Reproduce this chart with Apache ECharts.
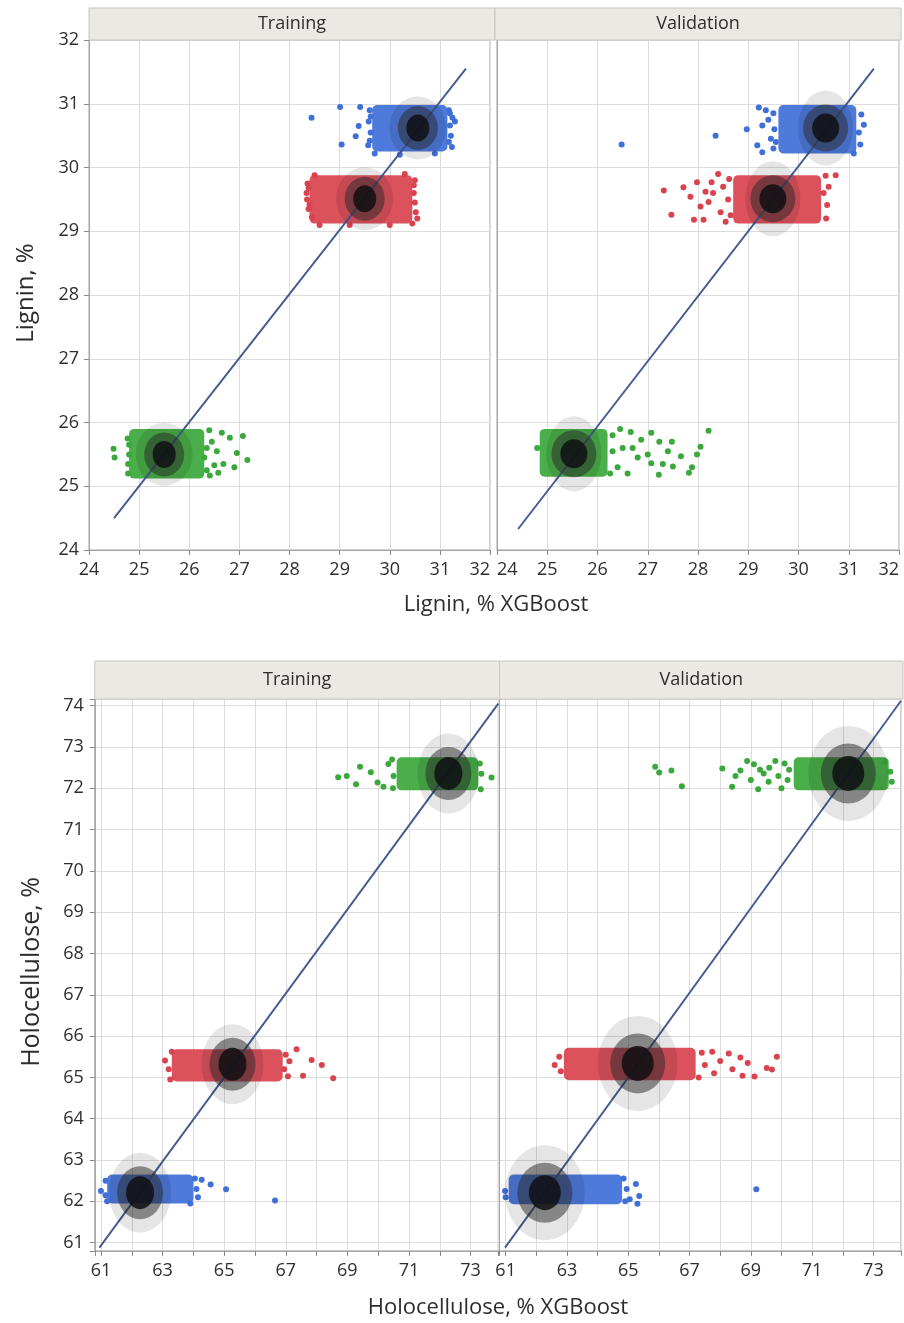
<!DOCTYPE html>
<html><head><meta charset="utf-8">
<script src="https://cdn.jsdelivr.net/npm/echarts@6/dist/echarts.min.js"></script>
<style>html,body{margin:0;padding:0;background:#fff;}#c{width:904px;height:1323px;}</style>
</head><body><div id="c"></div>
<script>
// ================= DATA =================
const panelNames = ['Training', 'Validation'];
const ligninTitleY = 'Lignin, %';
const ligninTitleX = 'Lignin, % XGBoost';
const holoTitleY = 'Holocellulose, %';
const holoTitleX = 'Holocellulose, % XGBoost';

const ligninTickLabels = [24, 25, 26, 27, 28, 29, 30, 31, 32];
const holoXTickLabels = [61, 63, 65, 67, 69, 71, 73];
const holoYTickLabels = [61, 62, 63, 64, 65, 66, 67, 68, 69, 70, 71, 72, 73, 74];
const ligninRange = [24, 32];
const holoXRange = [60.8, 73.9];
const holoYRange = [60.8, 74.15];

// cluster order in every panel: blue, red, green
// dense cores: [xMin, xMax, yMin, yMax]
// ---- Lignin / Training
const ligTrainDense = [[29.65, 31.15, 30.25, 30.98], [28.4, 30.45, 29.12, 29.88], [24.8, 26.3, 25.12, 25.9]];
const ligTrainBlue = [[28.44,30.78],[29.01,30.95],[29.41,30.95],[29.38,30.65],[29.32,30.49],[29.04,30.36],[29.57,30.35],[31.2,30.66],[31.24,30.32],[29.6,30.9],[29.62,30.55],[29.58,30.72],[31.25,30.78],[31.22,30.5],[31.18,30.9],[29.7,30.22],[30.2,30.2],[30.9,30.22],[31.3,30.72],[29.62,30.8],[29.6,30.42],[31.18,30.4],[31.2,30.85]];
const ligTrainRed = [[28.34,29.6],[28.36,29.75],[28.38,29.35],[28.35,29.5],[28.45,29.22],[30.5,29.8],[30.52,29.3],[30.48,29.6],[30.55,29.2],[30.45,29.12],[28.6,29.1],[29.2,29.1],[30.0,29.1],[28.5,29.88],[30.3,29.9],[28.38,29.68],[28.4,29.42],[30.5,29.45],[30.48,29.72]];
const ligTrainGreen = [[24.49,25.59],[24.51,25.45],[26.65,25.84],[26.81,25.76],[27.07,25.79],[27.16,25.41],[26.95,25.52],[26.9,25.3],[26.58,25.21],[26.68,25.35],[26.5,25.33],[26.41,25.17],[24.77,25.75],[24.78,25.2],[24.8,25.5],[26.35,25.6],[26.4,25.88],[26.3,25.45],[26.45,25.7],[26.55,25.55],[26.35,25.25],[24.78,25.35],[24.8,25.65]];
const ligTrainMeans = [[30.56,30.62],[29.5,29.51],[25.5,25.5]];
const ligTrainFit = [[24.5,24.5],[31.52,31.55]];

// ---- Lignin / Validation
const ligValDense = [[29.6, 31.15, 30.22, 30.98], [28.7, 30.45, 29.12, 29.88], [24.85, 26.2, 25.15, 25.9]];
const ligValBlue = [[26.48,30.36],[28.35,30.5],[28.97,30.6],[29.21,30.94],[29.28,30.66],[29.18,30.35],[29.28,30.24],[29.4,30.75],[29.45,30.45],[29.35,30.9],[29.5,30.3],[31.25,30.83],[31.3,30.67],[31.23,30.36],[31.2,30.55],[29.52,30.6],[31.1,30.22],[29.5,30.85],[29.55,30.4]];
const ligValRed = [[27.32,29.64],[27.47,29.26],[27.71,29.69],[27.85,29.54],[27.98,29.77],[27.92,29.18],[28.11,29.18],[28.21,29.46],[28.27,29.77],[28.4,29.9],[28.05,29.39],[28.3,29.6],[28.45,29.3],[28.5,29.7],[28.6,29.5],[28.55,29.15],[28.15,29.62],[30.74,29.88],[30.54,29.87],[30.57,29.41],[30.5,29.6],[30.55,29.2],[30.6,29.7],[28.62,29.82],[28.65,29.25]];
const ligValGreen = [[28.21,25.87],[28.05,25.62],[27.98,25.5],[27.82,25.21],[27.88,25.3],[27.66,25.47],[27.5,25.31],[27.4,25.55],[27.48,25.7],[27.23,25.7],[27.22,25.18],[27.07,25.84],[27.07,25.36],[27.3,25.35],[27.0,25.5],[26.87,25.73],[26.8,25.45],[26.66,25.85],[24.8,25.6],[26.5,25.6],[26.4,25.3],[26.6,25.2],[26.3,25.8],[26.45,25.9],[26.7,25.6],[26.25,25.2],[26.3,25.55]];
const ligValMeans = [[30.54,30.62],[29.49,29.51],[25.53,25.51]];
const ligValFit = [[24.42,24.33],[31.5,31.55]];

// ---- Holocellulose / Training
const holoTrainDense = [[61.2, 64.0, 61.95, 62.65], [63.3, 66.9, 64.9, 65.68], [70.6, 73.25, 71.95, 72.75]];
const holoTrainBlue = [[61.0,62.25],[64.27,62.52],[64.56,62.41],[65.06,62.29],[66.65,62.02],[61.15,62.5],[61.2,62.0],[64.1,62.3],[64.15,62.1],[64.05,62.55],[63.9,61.95],[61.15,62.15]];
const holoTrainRed = [[63.08,65.41],[67.35,65.68],[67.84,65.42],[68.17,65.3],[68.54,64.98],[67.56,65.04],[67.07,65.03],[67.12,65.39],[63.2,65.2],[63.25,64.95],[63.3,65.62],[67.0,65.55],[66.95,65.2]];
const holoTrainGreen = [[68.7,72.27],[68.98,72.3],[69.41,72.52],[69.28,72.1],[69.76,72.39],[69.98,72.14],[70.17,72.04],[70.33,72.59],[73.68,72.26],[73.33,71.98],[70.45,72.7],[70.5,72.3],[70.48,72.0],[73.3,72.6],[73.35,72.35]];
const holoTrainMeans = [[62.27,62.21],[65.27,65.32],[72.28,72.36]];
const holoTrainFit = [[60.95,60.88],[73.9,74.05]];

// ---- Holocellulose / Validation
const holoValDense = [[61.1, 64.8, 61.93, 62.65], [62.9, 67.2, 64.93, 65.72], [70.4, 73.5, 71.95, 72.75]];
const holoValBlue = [[65.25,62.42],[65.36,62.13],[65.05,62.05],[65.3,61.94],[64.95,62.3],[69.18,62.29],[61.0,62.1],[60.98,62.25],[64.85,62.55],[64.9,62.0]];
const holoValRed = [[62.6,65.3],[62.75,65.5],[62.8,65.15],[69.85,65.5],[69.52,65.23],[69.69,65.19],[69.12,65.02],[68.73,65.04],[68.66,65.48],[68.28,65.58],[67.74,65.62],[67.5,65.3],[67.8,65.1],[68.0,65.4],[68.4,65.2],[67.4,65.6],[68.9,65.35],[67.3,65.0]];
const holoValGreen = [[65.88,72.52],[66.01,72.38],[66.41,72.43],[66.75,72.05],[68.07,72.48],[68.39,72.04],[68.66,72.43],[68.88,72.66],[69.1,72.58],[69.24,71.98],[69.42,72.36],[69.58,72.16],[69.8,72.66],[73.6,72.16],[73.38,72.64],[69.0,72.2],[69.6,72.5],[69.9,72.3],[70.0,72.0],[70.1,72.6],[70.2,72.2],[68.5,72.3],[69.3,72.45],[70.25,72.45],[73.55,72.4]];
const holoValMeans = [[62.28,62.21],[65.31,65.34],[72.18,72.36]];
const holoValFit = [[60.98,60.88],[73.9,74.12]];

// ================= STYLE =================
const CLUSTER_COLORS = ['#3f6fd8', '#d8434f', '#3ba83b'];
const FONT = '"Open Sans", "Noto Sans", sans-serif';
const TXT = '#2e2e2e';
const GRIDLINE = '#dcdcdc';
const BORDER = '#a4a4a4';

const grids = [
  {left: 89, top: 40, width: 401, height: 510},
  {left: 497, top: 40, width: 402, height: 510},
  {left: 94.8, top: 699.5, width: 403.5, height: 551.4},
  {left: 499.5, top: 699.5, width: 403.5, height: 551.4}
].map(g => Object.assign({show: true, borderColor: BORDER, borderWidth: 1, backgroundColor: '#fff', containLabel: false}, g));

// ellipse pixel sizes per panel [outer, mid, core]
const ellSizes = [
  [[57, 63], [40, 44], [23, 27]],
  [[55, 75], [45, 47], [27, 29]],
  [[62, 80], [46, 53], [28, 33]],
  [[80, 95], [55, 60], [32, 35]]
];
const ellColors = ['rgba(0,0,0,0.10)', 'rgba(40,40,40,0.5)', 'rgba(14,14,18,0.84)'];

function labelFmt(list) {
  return v => list.indexOf(Math.round(v * 1000) / 1000) >= 0 ? String(v) : '';
}

function makeX(gi, range, list, opts) {
  const ax = {
    type: 'value', gridIndex: gi, min: range[0], max: range[1],
    axisLine: {show: true, onZero: false, lineStyle: {color: BORDER}},
    axisTick: {show: true, length: 5, lineStyle: {color: '#888'}},
    splitLine: {show: true, lineStyle: {color: GRIDLINE, width: 1}},
    axisLabel: {show: true, color: TXT, fontFamily: FONT, fontSize: 18, margin: 11, formatter: labelFmt(list)}
  };
  if (opts.interval) ax.interval = opts.interval; else ax.splitNumber = opts.split;
  Object.assign(ax.axisLabel, opts.label || {});
  return ax;
}
function makeY(gi, range, list, opts, showLabels) {
  const ax = {
    type: 'value', gridIndex: gi, min: range[0], max: range[1],
    axisLine: {show: true, onZero: false, lineStyle: {color: BORDER}},
    axisTick: {show: showLabels, length: 5, lineStyle: {color: '#888'}},
    splitLine: {show: true, lineStyle: {color: GRIDLINE, width: 1}},
    axisLabel: {show: showLabels, color: TXT, fontFamily: FONT, fontSize: 18, margin: opts.margin, formatter: labelFmt(list)}
  };
  if (opts.interval) ax.interval = opts.interval; else ax.splitNumber = opts.split;
  return ax;
}

const xAxes = [
  makeX(0, ligninRange, ligninTickLabels, {interval: 1, label: {alignMaxLabel: 'right'}}),
  makeX(1, ligninRange, ligninTickLabels, {interval: 1, label: {alignMinLabel: 'left', alignMaxLabel: 'right'}}),
  makeX(2, holoXRange, holoXTickLabels, {split: 13}),
  makeX(3, holoXRange, holoXTickLabels, {split: 13})
];
const yAxes = [
  makeY(0, ligninRange, ligninTickLabels, {interval: 1, margin: 10}, true),
  makeY(1, ligninRange, ligninTickLabels, {interval: 1, margin: 10}, false),
  makeY(2, holoYRange, holoYTickLabels, {split: 13, margin: 11}, true),
  makeY(3, holoYRange, holoYTickLabels, {split: 13, margin: 11}, false)
];

function panelSeries(gi, dense, pointSets, means, fit) {
  const out = [];
  out.push({
    type: 'custom', xAxisIndex: gi, yAxisIndex: gi, z: 1, silent: true, animation: false,
    encode: {x: [0, 1], y: [2, 3]}, data: dense,
    renderItem: (params, api) => {
      const a = api.coord([api.value(0), api.value(3)]);
      const b = api.coord([api.value(1), api.value(2)]);
      return {type: 'rect', shape: {x: a[0], y: a[1], width: b[0] - a[0], height: b[1] - a[1], r: 5},
        style: {fill: CLUSTER_COLORS[params.dataIndex], opacity: 0.92}};
    }
  });
  pointSets.forEach((arr, i) => out.push({
    type: 'scatter', xAxisIndex: gi, yAxisIndex: gi, z: 2, silent: true, animation: false,
    symbol: 'circle', symbolSize: 6, data: arr, itemStyle: {color: CLUSTER_COLORS[i], opacity: 1}
  }));
  out.push({
    type: 'line', xAxisIndex: gi, yAxisIndex: gi, z: 3, silent: true, animation: false,
    data: fit, symbol: 'none', lineStyle: {color: '#43598f', width: 1.9}
  });
  ellSizes[gi].forEach((sz, k) => out.push({
    type: 'scatter', xAxisIndex: gi, yAxisIndex: gi, z: 4 + k, silent: true, animation: false,
    symbol: 'circle', symbolSize: sz, data: means, itemStyle: {color: ellColors[k], opacity: 1}
  }));
  return out;
}

const series = [].concat(
  panelSeries(0, ligTrainDense, [ligTrainBlue, ligTrainRed, ligTrainGreen], ligTrainMeans, ligTrainFit),
  panelSeries(1, ligValDense, [ligValBlue, ligValRed, ligValGreen], ligValMeans, ligValFit),
  panelSeries(2, holoTrainDense, [holoTrainBlue, holoTrainRed, holoTrainGreen], holoTrainMeans, holoTrainFit),
  panelSeries(3, holoValDense, [holoValBlue, holoValRed, holoValGreen], holoValMeans, holoValFit)
);

function header(x, y, w, h, text) {
  return [
    {type: 'rect', shape: {x: x, y: y, width: w, height: h}, style: {fill: '#ebe9e3', stroke: '#c8c6bf', lineWidth: 1}, z: 10},
    {type: 'text', x: x + w / 2, y: y + h / 2, z: 11,
      style: {text: text, align: 'center', verticalAlign: 'middle', fill: TXT, font: '18px ' + FONT}}
  ];
}

const graphics = [].concat(
  header(89, 8, 406, 32, panelNames[0]),
  header(495, 8, 406, 32, panelNames[1]),
  header(94.8, 661, 404.7, 38, panelNames[0]),
  header(499.5, 661, 403.5, 38, panelNames[1]),
  [
    {type: 'text', x: 496, y: 605, style: {text: ligninTitleX, align: 'center', verticalAlign: 'middle', fill: TXT, font: '22px ' + FONT}},
    {type: 'text', x: 498, y: 1308, style: {text: holoTitleX, align: 'center', verticalAlign: 'middle', fill: TXT, font: '22px ' + FONT}},
    {type: 'text', x: 26, y: 293, rotation: Math.PI / 2, style: {text: ligninTitleY, align: 'center', verticalAlign: 'middle', fill: TXT, font: '24px ' + FONT}},
    {type: 'text', x: 32, y: 972, rotation: Math.PI / 2, style: {text: holoTitleY, align: 'center', verticalAlign: 'middle', fill: TXT, font: '25px ' + FONT}}
  ]
);

const chart = echarts.init(document.getElementById('c'), null, {renderer: 'canvas', width: 904, height: 1323});
chart.setOption({
  animation: false,
  backgroundColor: '#fff',
  grid: grids,
  xAxis: xAxes,
  yAxis: yAxes,
  series: series,
  graphic: graphics
});
</script>
</body></html>
